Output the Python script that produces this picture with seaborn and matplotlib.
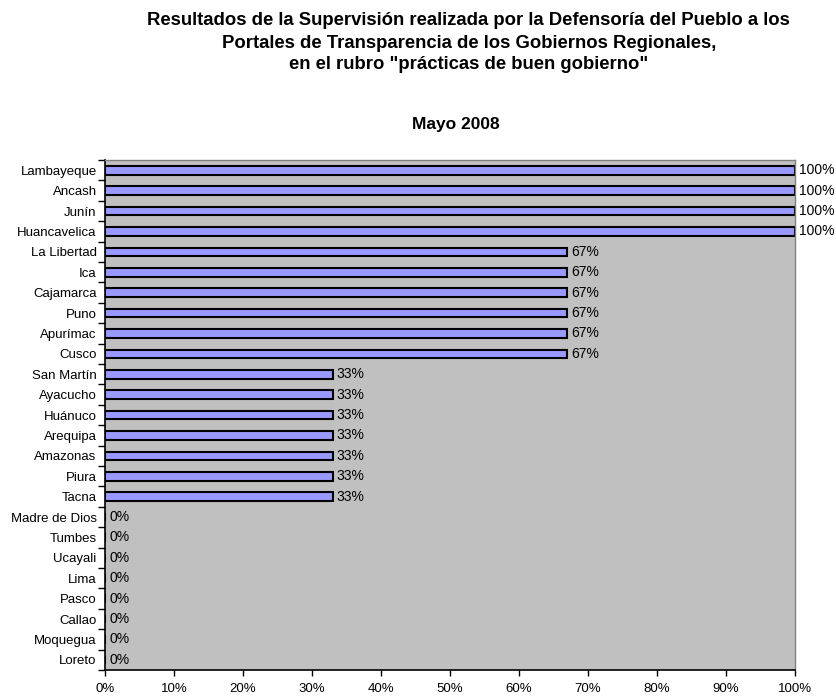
import matplotlib
matplotlib.use("Agg")
import matplotlib.pyplot as plt
import numpy as np
import pandas as pd
import seaborn as sns
from matplotlib.ticker import FixedLocator, PercentFormatter

sns.set_style("white")
plt.rcParams["font.family"] = ["Liberation Sans", "DejaVu Sans"]
plt.rcParams["text.color"] = "black"
plt.rcParams["xtick.color"] = "black"
plt.rcParams["ytick.color"] = "black"

# ==========================================
# Data
# ==========================================
regiones = ["Lambayeque", "Ancash", "Junín", "Huancavelica", "La Libertad", "Ica",
            "Cajamarca", "Puno", "Apurímac", "Cusco", "San Martín", "Ayacucho",
            "Huánuco", "Arequipa", "Amazonas", "Piura", "Tacna", "Madre de Dios",
            "Tumbes", "Ucayali", "Lima", "Pasco", "Callao", "Moquegua", "Loreto"]
porcentajes = [100, 100, 100, 100, 67, 67, 67, 67, 67, 67, 33, 33, 33, 33, 33, 33, 33,
               0, 0, 0, 0, 0, 0, 0, 0]
x_ticks = [0, 10, 20, 30, 40, 50, 60, 70, 80, 90, 100]

df = pd.DataFrame({"Region": regiones, "Valor": porcentajes})

# ==========================================
# Plot
# ==========================================
fig = plt.figure(figsize=(8.37, 6.97), dpi=100)
ax = fig.add_axes([0.1254, 0.0387, 0.8244, 0.7317])
ax.set_facecolor("#C0C0C0")

sns.barplot(data=df, x="Valor", y="Region", orient="h", color="#9999FF",
            saturation=1, edgecolor="black", linewidth=1.5, width=0.42, ax=ax)

# data labels
for container in ax.containers:
    ax.bar_label(container, labels=[f"{v}%" for v in porcentajes],
                 padding=3, fontsize=10, color="black")

ax.set_xlim(0, 100)
ax.set_ylim(len(regiones) - 0.5, -0.5)
ax.xaxis.set_major_locator(FixedLocator(x_ticks))
ax.xaxis.set_major_formatter(PercentFormatter(decimals=0))

# Excel style ticks between categories
ax.set_yticks(np.arange(len(regiones)))
ax.set_yticklabels(regiones)
ax.yaxis.set_minor_locator(FixedLocator(np.arange(-0.5, len(regiones), 1)))
ax.tick_params(axis="y", which="major", length=0, pad=6, labelsize=9.5)
ax.tick_params(axis="y", which="minor", length=5, width=1, color="black", left=True)
ax.tick_params(axis="x", which="major", length=4, width=1, color="black",
               bottom=True, pad=5, labelsize=9.5)

ax.set_xlabel("")
ax.set_ylabel("")

for side in ["left", "bottom"]:
    ax.spines[side].set_color("black")
    ax.spines[side].set_linewidth(1.2)
for side in ["top", "right"]:
    ax.spines[side].set_color("#808080")
    ax.spines[side].set_linewidth(1)

# titles
titulo = ["Resultados de la Supervisión realizada por la Defensoría del Pueblo a los",
          "Portales de Transparencia de los Gobiernos Regionales,",
          "en el rubro \"prácticas de buen gobierno\""]
for linea, y in zip(titulo, [0.970, 0.938, 0.907]):
    fig.text(0.56, y, linea, ha="center", va="center", fontsize=13.3, fontweight="bold")
fig.text(0.545, 0.821, "Mayo 2008", ha="center", va="center", fontsize=12.5, fontweight="bold")

fig.savefig("out.png", dpi=100)
